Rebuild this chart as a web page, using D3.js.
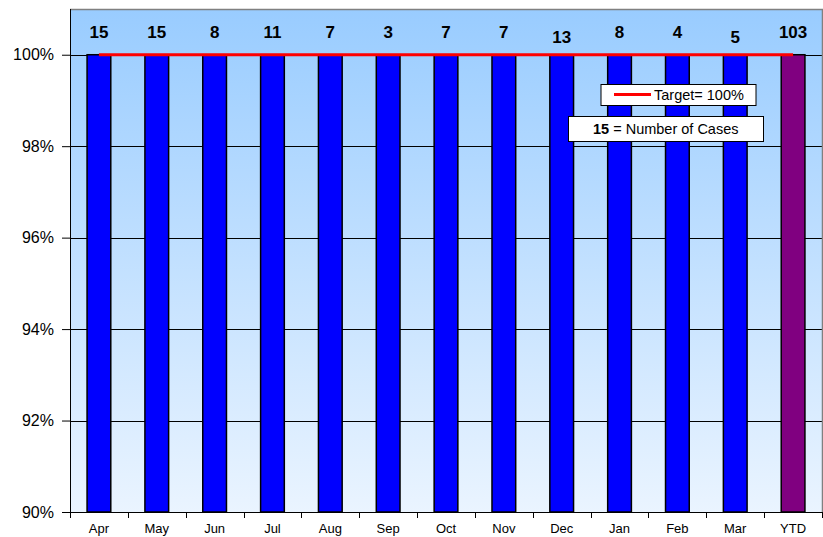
<!DOCTYPE html>
<html><head><meta charset="utf-8">
<script src="https://cdn.jsdelivr.net/npm/d3@7"></script>
<style>body{margin:0;background:#fff}svg{display:block;font-family:Arial,"Liberation Sans",sans-serif}</style>
</head><body><svg id="c" width="823" height="537"></svg>
<script>
const categories = ["Apr","May","Jun","Jul","Aug","Sep","Oct","Nov","Dec","Jan","Feb","Mar","YTD"];
const values = [100,100,100,100,100,100,100,100,100,100,100,100,100];
const cases = [15,15,8,11,7,3,7,7,13,8,4,5,103];
const target = 100;
const yTicks = [90,92,94,96,98,100];

const svg = d3.select("#c");
const m = {l:70, t:9, r:822, b:512};
const x = d3.scaleBand().domain(categories).range([m.l, m.r]).paddingInner(0.59).paddingOuter(0.295);
const y = d3.scaleLinear().domain([90,101]).range([m.b, m.t]);

const defs = svg.append("defs");
const g = defs.append("linearGradient").attr("id","bg").attr("x1",0).attr("y1",0).attr("x2",0).attr("y2",1);
g.append("stop").attr("offset","0%").attr("stop-color","#99ccff");
g.append("stop").attr("offset","100%").attr("stop-color","#eaf4ff");

svg.append("rect").attr("x",m.l).attr("y",m.t).attr("width",m.r-m.l).attr("height",m.b-m.t).attr("fill","url(#bg)");

// gridlines
svg.append("g").selectAll("line").data(yTicks.filter(d=>d>90)).join("line")
  .attr("x1",m.l).attr("x2",m.r).attr("y1",d=>Math.round(y(d))+0.5).attr("y2",d=>Math.round(y(d))+0.5)
  .attr("stroke","#000").attr("stroke-width",1);

// border top/right
svg.append("path").attr("d",`M${m.l},${m.t+0.5}H${m.r+0.5}V${m.b}`).attr("fill","none").attr("stroke","#808080").attr("stroke-width",1.5);

// bars
svg.append("g").selectAll("rect").data(categories).join("rect")
  .attr("x",d=>x(d)).attr("width",x.bandwidth())
  .attr("y",(d,i)=>y(values[i])).attr("height",(d,i)=>y(90)-y(values[i]))
  .attr("fill",(d,i)=>d==="YTD"?"#800080":"#0000ff").attr("stroke","#000").attr("stroke-width",1.5);

// target line
svg.append("line").attr("x1",x(categories[0])+x.bandwidth()/2).attr("x2",x(categories[categories.length-1])+x.bandwidth()/2)
  .attr("y1",y(target)).attr("y2",y(target)).attr("stroke","#ff0000").attr("stroke-width",3);

// case labels
svg.append("g").selectAll("text").data(categories).join("text")
  .attr("x",d=>x(d)+x.bandwidth()/2).attr("y",(d,i)=>i===8||i===11?43:38)
  .attr("text-anchor","middle").attr("font-size",17).attr("font-weight","bold").attr("fill","#000")
  .text((d,i)=>cases[i]);

// axes
const ya = d3.axisLeft(y).tickValues(yTicks).tickFormat(d=>d+"%").tickSize(8).tickPadding(8);
const yg = svg.append("g").attr("transform",`translate(${m.l},0)`).call(ya);
yg.select(".domain").attr("d",`M0.5,${m.t}V${m.b}`).attr("stroke","#000");
yg.selectAll(".tick line").attr("x2",-8).attr("x1",0).attr("stroke","#000");
yg.selectAll("text").attr("font-size",16).attr("fill","#000").attr("font-family","Arial,'Liberation Sans',sans-serif").attr("x",-16);

const xg = svg.append("g").attr("transform",`translate(0,${m.b})`);
xg.append("line").attr("x1",m.l).attr("x2",m.r).attr("y1",0.5).attr("y2",0.5).attr("stroke","#000");
const bounds = categories.map((d,i)=>m.l + i*x.step()).concat([m.r]);
xg.selectAll("line.t").data(bounds).join("line").attr("class","t")
  .attr("x1",d=>Math.round(d)+0.5).attr("x2",d=>Math.round(d)+0.5).attr("y1",0).attr("y2",6).attr("stroke","#000");
xg.selectAll("text").data(categories).join("text")
  .attr("x",d=>x(d)+x.bandwidth()/2).attr("y",21).attr("text-anchor","middle").attr("font-size",13).attr("fill","#000").text(d=>d);

// legend boxes
const lg = svg.append("g");
lg.append("rect").attr("x",601).attr("y",84.5).attr("width",155).attr("height",21).attr("fill","#fff").attr("stroke","#000");
lg.append("line").attr("x1",614).attr("x2",651).attr("y1",94.5).attr("y2",94.5).attr("stroke","#ff0000").attr("stroke-width",3);
lg.append("text").attr("x",654).attr("y",100).attr("font-size",14.5).attr("fill","#000").text("Target= 100%");
lg.append("rect").attr("x",568.5).attr("y",116.5).attr("width",195).attr("height",25).attr("fill","#fff").attr("stroke","#000");
const t2 = lg.append("text").attr("x",593).attr("y",134).attr("font-size",14.5).attr("fill","#000");
t2.append("tspan").attr("font-weight","bold").text(cases[0]);
t2.append("tspan").text(" = Number of Cases");
</script></body></html>
